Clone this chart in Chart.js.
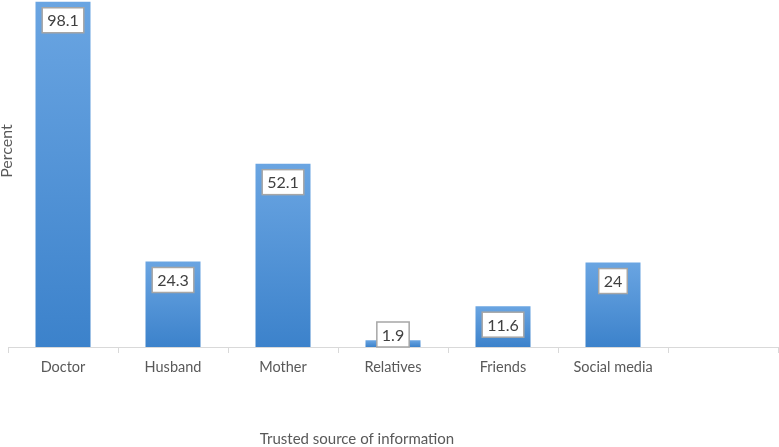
<!DOCTYPE html>
<html>
<head>
<meta charset="utf-8">
<script src="https://cdn.jsdelivr.net/npm/chart.js@4.4.1/dist/chart.umd.min.js"></script>
<style>
  html, body { margin: 0; padding: 0; background: #fff; }
  #wrap { width: 779px; height: 447px; }
</style>
</head>
<body>
<div id="wrap"><canvas id="sourceChart"></canvas></div>
<script>
  const categories = ["Doctor", "Husband", "Mother", "Relatives", "Friends", "Social media", ""];
  const percentValues = [98.1, 24.3, 52.1, 1.9, 11.6, 24, null];
  const xTitle = "Trusted source of information";
  const yTitle = "Percent";

  const FONT = "Lato, 'Open Sans', sans-serif";

  // gradient per bar, light at the top, darker at the base
  function barFill(ctx) {
    const chart = ctx.chart;
    const area = chart.chartArea;
    if (!area || ctx.raw == null) return "#4a8fd6";
    const y = chart.scales.y;
    const top = y.getPixelForValue(ctx.raw);
    const base = y.getPixelForValue(0);
    if (!(base > top)) return "#4a8fd6";
    const g = chart.ctx.createLinearGradient(0, top, 0, base);
    g.addColorStop(0, "#6aa5e2");
    g.addColorStop(1, "#3c82cb");
    return g;
  }

  const labelBoxes = {
    id: "labelBoxes",
    afterDatasetsDraw(chart) {
      const c = chart.ctx;
      const meta = chart.getDatasetMeta(0);
      c.save();
      c.font = "16px " + FONT;
      c.textAlign = "center";
      c.textBaseline = "middle";
      meta.data.forEach((bar, i) => {
        const v = percentValues[i];
        if (v == null) return;
        const txt = String(v);
        const w = c.measureText(txt).width + 10;
        const h = 25;
        const top = Math.min(bar.y + 6, bar.base - h);
        c.fillStyle = "#ffffff";
        c.fillRect(bar.x - w / 2, top, w, h);
        c.strokeStyle = "#a6a6a6";
        c.lineWidth = 1.5;
        c.strokeRect(bar.x - w / 2, top, w, h);
        c.fillStyle = "#404040";
        c.fillText(txt, bar.x, top + h / 2 + 1);
      });
      c.restore();
    }
  };

  const axisTitles = {
    id: "axisTitles",
    afterDraw(chart) {
      const c = chart.ctx;
      c.save();
      c.fillStyle = "#595959";
      c.textAlign = "center";
      c.textBaseline = "alphabetic";
      c.font = "15px " + FONT;
      c.fillText(xTitle, 357, 444);
      c.font = "16px " + FONT;
      c.translate(12, 151);
      c.rotate(-Math.PI / 2);
      c.fillText(yTitle, 0, 0);
      c.restore();
    }
  };

  new Chart(document.getElementById("sourceChart"), {
    type: "bar",
    data: {
      labels: categories,
      datasets: [{
        data: percentValues,
        backgroundColor: barFill,
        barPercentage: 0.5,
        categoryPercentage: 1
      }]
    },
    options: {
      responsive: true,
      maintainAspectRatio: false,
      animation: false,
      layout: { padding: { left: 8, right: 1, top: 0, bottom: 0 } },
      plugins: {
        legend: { display: false },
        tooltip: { enabled: false }
      },
      scales: {
        x: {
          offset: true,
          grid: {
            offset: true,
            drawOnChartArea: false,
            drawTicks: true,
            tickLength: 6,
            color: "#d9d9d9"
          },
          border: { color: "#d9d9d9", width: 1 },
          ticks: {
            color: "#595959",
            font: { family: FONT, size: 14.5 },
            padding: 6,
            maxRotation: 0,
            autoSkip: false
          },
          afterFit(scale) { scale.height = 100; }
        },
        y: {
          display: false,
          min: 0,
          max: 98.6
        }
      }
    },
    plugins: [labelBoxes, axisTitles]
  });
</script>
</body>
</html>
